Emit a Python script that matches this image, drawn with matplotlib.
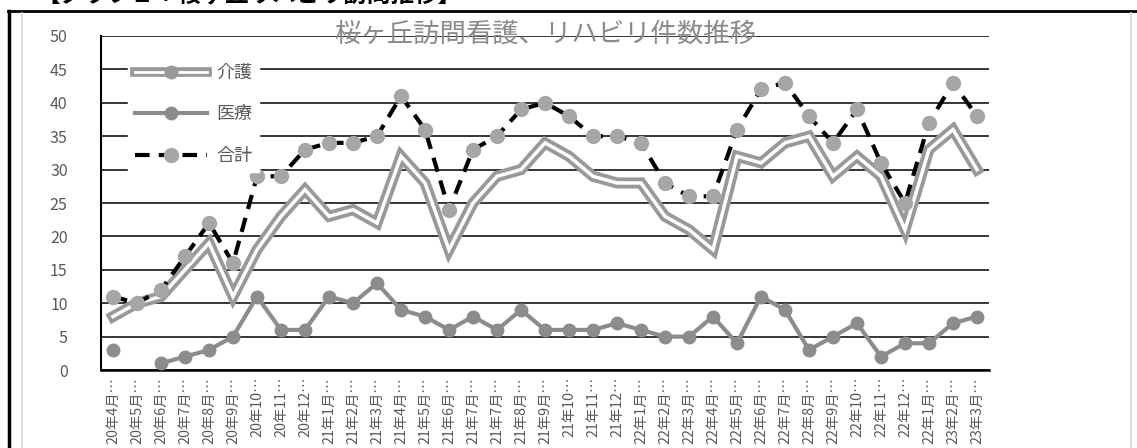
import numpy as np
import matplotlib
matplotlib.use('Agg')
import matplotlib.pyplot as plt
from matplotlib.lines import Line2D

plt.rcParams['font.family'] = ['Noto Sans CJK JP', 'DejaVu Sans']

# ── Data ────────────────────────────────────────────────────────────────────
months = ['20年4月…', '20年5月…', '20年6月…', '20年7月…', '20年8月…', '20年9月…',
          '20年10…', '20年11…', '20年12…',
          '21年1月…', '21年2月…', '21年3月…', '21年4月…', '21年5月…', '21年6月…',
          '21年7月…', '21年7月…', '21年8月…', '21年9月…', '21年10…', '21年11…', '21年12…',
          '22年1月…', '22年2月…', '22年3月…', '22年4月…', '22年5月…', '22年6月…',
          '22年7月…', '22年8月…', '22年9月…', '22年10…', '22年11…', '22年12…',
          '22年1月…', '23年2月…', '23年3月…']
kaigo = [8, 10, 11, 15, 19, 11, 18, 23, 27, 23, 24, 22, 32, 28, 18, 25, 29, 30, 34,
         32, 29, 28, 28, 23, 21, 18, 32, 31, 34, 35, 29, 32, 29, 21, 33, 36, 30]
iryo = [3, np.nan, 1, 2, 3, 5, 11, 6, 6, 11, 10, 13, 9, 8, 6, 8, 6, 9, 6,
        6, 6, 7, 6, 5, 5, 8, 4, 11, 9, 3, 5, 7, 2, 4, 4, 7, 8]
goukei = [11, 10, 12, 17, 22, 16, 29, 29, 33, 34, 34, 35, 41, 36, 24, 33, 35, 39, 40,
          38, 35, 35, 34, 28, 26, 26, 36, 42, 43, 38, 34, 39, 31, 25, 37, 43, 38]
yticks = [0, 5, 10, 15, 20, 25, 30, 35, 40, 45, 50]

title = '桜ヶ丘訪問看護、リハビリ件数推移'
header = '【グラフ２：桜ヶ丘リハビリ訪問推移】'

# Colours
grey_kaigo = '#999999'
grey_iryo = '#8c8c8c'
grey_dot = '#a6a6a6'
text_grey = '#595959'

fig = plt.figure(figsize=(11.37, 4.48), dpi=100)
ax = fig.add_axes([101 / 1137, 78 / 448, 888 / 1137, 334 / 448])
x = np.arange(len(months))

# 介護: compound (double) line
ax.plot(x, kaigo, color=grey_kaigo, lw=8, solid_joinstyle='miter', zorder=3)
ax.plot(x, kaigo, color='white', lw=2.5, solid_joinstyle='miter', zorder=3.1)

# 医療
ax.plot(x, iryo, color=grey_iryo, lw=3, marker='o', markersize=9, zorder=4)

# 合計
ax.plot(x, goukei, color='black', lw=3, dashes=(3.5, 2.2), marker='o',
        markersize=10, markerfacecolor=grey_dot, markeredgecolor=grey_dot, zorder=5)

ax.set_xlim(-0.5, len(months) - 0.5)
ax.set_ylim(0, 50)
ax.set_yticks(yticks)
ax.set_xticks(x)
ax.set_xticklabels(months, rotation=90, fontsize=10.3, color=text_grey)
ax.tick_params(axis='y', length=0, pad=24, labelsize=11.5, labelcolor=text_grey)
ax.tick_params(axis='x', length=0, pad=5)
ax.yaxis.grid(True, color='black', lw=1.1)
ax.set_axisbelow(True)
for side in ['top', 'right']:
    ax.spines[side].set_visible(False)
ax.spines['left'].set_linewidth(1.5)
ax.spines['bottom'].set_linewidth(1.8)

ax.text(0.5, 1.005, title, transform=ax.transAxes, ha='center', va='center',
        fontsize=19, color='#8a8a8a', zorder=6)

# Legend
h_kaigo = (Line2D([], [], color=grey_kaigo, lw=7),
           Line2D([], [], color='white', lw=2),
           Line2D([], [], color=grey_kaigo, ls='none', marker='o', markersize=9))
h_iryo = Line2D([], [], color=grey_iryo, lw=3, marker='o', markersize=9)
h_goukei = Line2D([], [], color='black', lw=3, dashes=(3.5, 2.2), marker='o',
                  markersize=10, markerfacecolor=grey_dot, markeredgecolor=grey_dot)
leg = ax.legend([h_kaigo, h_iryo, h_goukei], ['介護', '医療', '合計'],
                loc='upper left', bbox_to_anchor=(0.02, 0.965), frameon=True,
                fancybox=False, edgecolor='white', framealpha=1,
                fontsize=13, handlelength=4.0, handletextpad=0.5,
                labelspacing=1.3, borderpad=0.4)
for t in leg.get_texts():
    t.set_color(text_grey)
leg.set_zorder(7)

# Outer frame and header (cut off at the top of the picture, as in the source)
fig.add_artist(Line2D([9 / 1137, 9 / 1137], [0, 1 - 11 / 448], color='black', lw=2.5))
fig.add_artist(Line2D([8 / 1137, 1], [1 - 11 / 448, 1 - 11 / 448], color='black', lw=2))
fig.add_artist(Line2D([22 / 1137, 22 / 1137], [0, 1 - 13 / 448], color='#d9d9d9', lw=1.2))
fig.add_artist(Line2D([1131 / 1137, 1131 / 1137], [0, 1 - 13 / 448], color='#d9d9d9', lw=1.2))
fig.text(36 / 1137, 1 - 7 / 448, header, ha='left', va='bottom',
         fontsize=17, fontweight='bold', color='black')

fig.savefig('out.png', dpi=100)
